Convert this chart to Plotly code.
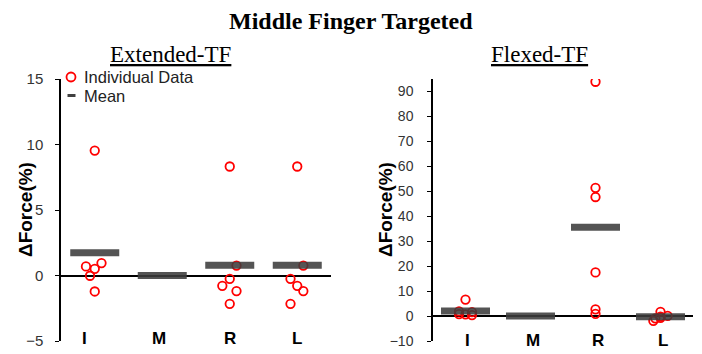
import plotly.graph_objects as go

W, H = 702, 354

categories = ["I", "M", "R", "L"]

# Extended-TF individual data (per category) and means
ext_I = [9.54, 0.69, 0.51, 0.95, -0.02, -1.22]
ext_M = []
ext_R = [8.32, 0.76, -0.25, -0.79, -1.19, -2.16]
ext_L = [8.32, 0.76, -0.25, -0.79, -1.19, -2.16]
ext_means = [1.74, 0.0, 0.78, 0.78]

# Flexed-TF individual data and means
flx_I = [6.6, 1.9, 1.6, 0.8, 0.7, 0.4]
flx_M = []
flx_R = [93.9, 51.4, 47.7, 17.5, 2.7, 0.9]
flx_L = [1.7, 0.1, -0.2, -0.7, -0.9, -1.9]
flx_means = [2.0, 0.0, 35.6, -0.3]

ext_ticks = [-5, 0, 5, 10, 15]
flx_ticks = [-10, 0, 10, 20, 30, 40, 50, 60, 70, 80, 90]

# horizontal jitter (category units) for the individual points
ext_jit = {"I": [0, -0.13, 0, 0.1, -0.07, 0],
           "M": [],
           "R": [0, 0.1, 0, -0.11, 0.1, 0],
           "L": [0, 0.09, -0.1, 0, 0.09, -0.1]}
flx_jit = {"I": [0, -0.1, 0.1, -0.1, 0, 0.1],
           "M": [],
           "R": [0, 0, 0, 0, 0, 0],
           "L": [0, 0.11, 0, 0, -0.08, -0.11]}

RED = "#ff0000"
MEANC = "rgba(60,60,60,0.88)"

fig = go.Figure()


def add_panel(data, jit, means, xa, ya):
    xs, ys = [], []
    for ci, cat in enumerate(categories):
        for v, j in zip(data[cat], jit[cat]):
            xs.append(ci + j)
            ys.append(v)
    fig.add_trace(go.Scatter(
        x=xs, y=ys, mode="markers", xaxis=xa, yaxis=ya, showlegend=False,
        marker=dict(symbol="circle-open", size=8.5, color=RED,
                    line=dict(color=RED, width=1.8)),
        hoverinfo="y"))
    fig.add_trace(go.Scatter(
        x=list(range(len(categories))), y=means, mode="markers",
        xaxis=xa, yaxis=ya, showlegend=False,
        marker=dict(symbol="line-ew", size=35, color=MEANC,
                    line=dict(color=MEANC, width=7)),
        hoverinfo="y"))


add_panel({"I": ext_I, "M": ext_M, "R": ext_R, "L": ext_L}, ext_jit, ext_means, "x", "y")
add_panel({"I": flx_I, "M": flx_M, "R": flx_R, "L": flx_L}, flx_jit, flx_means, "x2", "y2")

ydom = [1 - 341 / H, 1 - 79 / H]
xcommon = dict(range=[-0.5, 3.5], showticklabels=False, showgrid=False,
               zeroline=False, showline=False, ticks="", fixedrange=True,
               automargin=False)
ycommon = dict(showgrid=False, zeroline=True, zerolinecolor="black",
               zerolinewidth=1.5, showline=True, linecolor="black",
               linewidth=1.5, ticks="outside", ticklen=4, tickcolor="black",
               tickwidth=1, domain=ydom, automargin=False)

fig.update_layout(
    width=W, height=H,
    margin=dict(l=0, r=0, t=0, b=0, autoexpand=False),
    plot_bgcolor="white", paper_bgcolor="white",
    showlegend=False,
    xaxis=dict(domain=[61 / W, 331 / W], anchor="y", **xcommon),
    xaxis2=dict(domain=[433 / W, 693 / W], anchor="y2", **xcommon),
    yaxis=dict(range=[-5, 15], tickvals=ext_ticks, anchor="x",
               ticklabelstandoff=9,
               tickfont=dict(family="Arial, Liberation Sans", size=15, color="#333"),
               **ycommon),
    yaxis2=dict(range=[-10, 95], tickvals=flx_ticks, anchor="x2",
                ticklabelstandoff=11,
                tickfont=dict(family="Arial, Liberation Sans", size=14, color="#333"),
                **ycommon),
)

ann = []
serif = "Times New Roman, Liberation Serif, serif"
sans = "Arial, Liberation Sans, sans-serif"
ann.append(dict(text="<b>Middle Finger Targeted</b>", x=351 / W, y=1 - 21 / H,
                xref="paper", yref="paper", showarrow=False, xanchor="center",
                yanchor="middle", font=dict(family=serif, size=24, color="black")))
ann.append(dict(text="<u>Extended-TF</u>", x=170 / W, y=1 - 54 / H,
                xref="paper", yref="paper", showarrow=False, xanchor="center",
                yanchor="middle", font=dict(family=serif, size=23, color="black")))
ann.append(dict(text="<u>Flexed-TF</u>", x=539 / W, y=1 - 54 / H,
                xref="paper", yref="paper", showarrow=False, xanchor="center",
                yanchor="middle", font=dict(family=serif, size=23, color="black")))
for xp in (25, 385):
    ann.append(dict(text="<b>ΔForce(%)</b>", x=xp / W, y=1 - 210 / H,
                    xref="paper", yref="paper", showarrow=False, textangle=-90,
                    xanchor="center", yanchor="middle",
                    font=dict(family=sans, size=19, color="black")))
# category labels
shifts_left = [-10, -3, 0, 0]
for ci, cat in enumerate(categories):
    ann.append(dict(text="<b>%s</b>" % cat, x=ci, y=1 - 338 / H, xref="x",
                    yref="paper", showarrow=False, xanchor="center",
                    yanchor="middle", xshift=shifts_left[ci],
                    font=dict(family=sans, size=17, color="black")))
    ann.append(dict(text="<b>%s</b>" % cat, x=ci, y=1 - 340 / H, xref="x2",
                    yref="paper", showarrow=False, xanchor="center",
                    yanchor="middle", xshift=2,
                    font=dict(family=sans, size=17, color="black")))
# manual legend
ann.append(dict(text="Individual Data", x=82 / W, y=1 - 77 / H, xref="paper",
                yref="paper", showarrow=False, xanchor="left", yanchor="middle",
                font=dict(family=sans, size=16.5, color="#222")))
ann.append(dict(text="Mean", x=82 / W, y=1 - 95.5 / H, xref="paper",
                yref="paper", showarrow=False, xanchor="left", yanchor="middle",
                font=dict(family=sans, size=16.5, color="#222")))
fig.update_layout(annotations=ann)

fig.add_shape(type="circle", xref="paper", yref="paper",
              x0=66.5 / W, x1=75.5 / W, y0=1 - 81.5 / H, y1=1 - 72.5 / H,
              line=dict(color=RED, width=1.8))
fig.add_shape(type="line", xref="paper", yref="paper",
              x0=67.5 / W, x1=75.5 / W, y0=1 - 95.5 / H, y1=1 - 95.5 / H,
              line=dict(color="#404040", width=3))

post = ("document.documentElement.style.margin='0';"
        "document.documentElement.style.padding='0';"
        "document.documentElement.style.overflow='hidden';"
        "document.body.style.margin='0';document.body.style.padding='0';"
        "document.body.style.overflow='hidden';"
        "var gd=document.getElementById('{plot_id}');"
        "gd.style.position='absolute';gd.style.top='0px';gd.style.left='0px';")
fig.write_html("out.html", post_script=post,
               config={"displayModeBar": False, "responsive": False})
